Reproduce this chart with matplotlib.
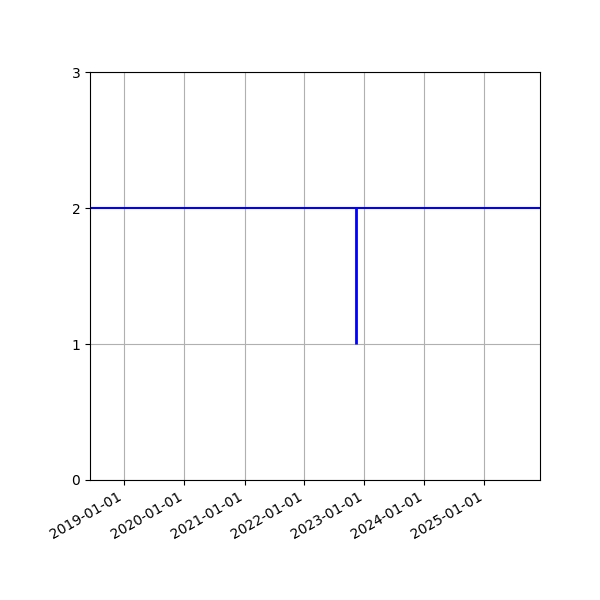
import numpy as np
import matplotlib
matplotlib.use("Agg")
import matplotlib.pyplot as plt
import matplotlib.dates as mdates

# data
x_start = np.datetime64("2018-06-05")
x_end = np.datetime64("2025-12-05")
h_level = 2
v_date = np.datetime64("2022-11-12")
v_bottom = 1
v_top = 2

fig, ax = plt.subplots(figsize=(6, 6), dpi=100)

ax.hlines(h_level, x_start, x_end, colors="blue", lw=1.5)
ax.vlines(v_date, v_bottom, v_top, colors="blue", lw=2)

ax.set_xlim(x_start, x_end)
ax.set_ylim(0, 3)
ax.set_yticks([0, 1, 2, 3])
ax.xaxis.set_major_locator(mdates.YearLocator())
ax.xaxis.set_major_formatter(mdates.DateFormatter("%Y-%m-%d"))
ax.grid(True)
fig.autofmt_xdate()
fig.subplots_adjust(left=0.15, right=0.9, top=0.88, bottom=0.2)

fig.savefig("out.png")
